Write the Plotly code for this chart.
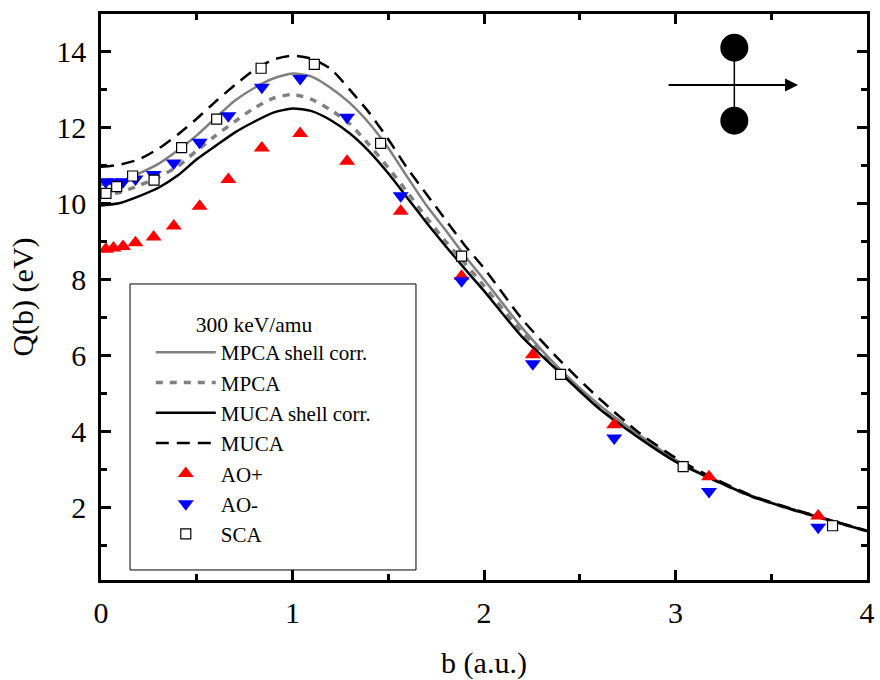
import plotly.graph_objects as go

# ---------------- data ----------------
b_grid = [0, 0.1, 0.2, 0.3, 0.4, 0.5, 0.6, 0.7, 0.8, 0.9, 1.0, 1.1, 1.2, 1.3, 1.4,
          1.5, 1.6, 1.7, 1.8, 1.9, 2.0, 2.2, 2.4, 2.6, 2.8, 3.0, 3.2, 3.4, 3.6, 3.8, 4.0]

mpca_shell = [10.5, 10.58, 10.8, 11.05, 11.4, 11.8, 12.27, 12.72, 13.05, 13.3, 13.43,
              13.35, 13.05, 12.65, 12.12, 11.47, 10.7, 9.95, 9.3, 8.62, 8.0, 6.72, 5.62,
              4.7, 3.94, 3.25, 2.73, 2.29, 1.96, 1.66, 1.37]
mpca = [10.22, 10.3, 10.48, 10.7, 10.98, 11.4, 11.8, 12.17, 12.52, 12.78, 12.88,
        12.75, 12.47, 12.1, 11.55, 10.95, 10.3, 9.63, 9.0, 8.43, 7.83, 6.6, 5.58,
        4.66, 3.9, 3.23, 2.72, 2.28, 1.95, 1.66, 1.37]
muca_shell = [9.95, 10.02, 10.2, 10.42, 10.74, 11.17, 11.53, 11.88, 12.16, 12.4, 12.51,
              12.44, 12.2, 11.85, 11.38, 10.8, 10.15, 9.5, 8.88, 8.28, 7.7, 6.48, 5.53,
              4.6, 3.86, 3.2, 2.72, 2.28, 1.95, 1.66, 1.37]
muca = [10.97, 11.03, 11.17, 11.45, 11.82, 12.24, 12.7, 13.13, 13.52, 13.8, 13.9,
        13.82, 13.55, 13.0, 12.4, 11.7, 10.93, 10.25, 9.57, 8.9, 8.3, 6.95, 5.85,
        4.87, 4.0, 3.3, 2.76, 2.3, 1.97, 1.67, 1.38]

b_ao = [0.025, 0.065, 0.115, 0.18, 0.275, 0.38, 0.515, 0.665, 0.84, 1.04, 1.285,
        1.565, 1.883, 2.255, 2.68, 3.175, 3.745]
ao_plus = [8.8, 8.83, 8.87, 8.97, 9.12, 9.41, 9.93, 10.64, 11.47, 11.85, 11.12,
           9.8, 8.09, 6.02, 4.17, 2.8, 1.77]
ao_minus = [10.58, 10.57, 10.58, 10.65, 10.77, 11.07, 11.62, 12.32, 13.07, 13.3, 12.28,
            10.21, 7.97, 5.78, 3.82, 2.41, 1.47]

b_sca = [0.026, 0.082, 0.165, 0.277, 0.421, 0.604, 0.836, 1.114, 1.46, 1.883, 2.4,
         3.04, 3.82]
sca = [10.27, 10.45, 10.73, 10.62, 11.48, 12.23, 13.57, 13.67, 11.59, 8.62, 5.5,
       3.07, 1.51]

legend_title = "300 keV/amu"
names = ["MPCA shell corr.", "MPCA", "MUCA shell corr.", "MUCA", "AO+", "AO-", "SCA"]
x_ticks = [0, 1, 2, 3, 4]
y_ticks = [2, 4, 6, 8, 10, 12, 14]

# ---------------- figure ----------------
FONT = "Liberation Serif, DejaVu Serif, Times New Roman, serif"
GREY = "#808080"

fig = go.Figure()
fig.add_trace(go.Scatter(x=b_grid, y=mpca_shell, mode="lines", name=names[0],
                         line=dict(color=GREY, width=2.5, shape="spline", smoothing=0.6)))
fig.add_trace(go.Scatter(x=b_grid, y=mpca, mode="lines", name=names[1],
                         line=dict(color=GREY, width=3.5, dash="7px,7px", shape="spline", smoothing=0.6)))
fig.add_trace(go.Scatter(x=b_grid, y=muca_shell, mode="lines", name=names[2],
                         line=dict(color="black", width=2.5, shape="spline", smoothing=0.6)))
fig.add_trace(go.Scatter(x=b_grid, y=muca, mode="lines", name=names[3],
                         line=dict(color="black", width=2.5, dash="13px,8px", shape="spline", smoothing=0.6)))
fig.add_trace(go.Scatter(x=b_ao, y=ao_plus, mode="markers", name=names[4],
                         marker=dict(symbol="triangle-up", size=14, color="#ff0000", line=dict(width=0))))
fig.add_trace(go.Scatter(x=b_ao, y=ao_minus, mode="markers", name=names[5],
                         marker=dict(symbol="triangle-down", size=14, color="#0000ff", line=dict(width=0))))
fig.add_trace(go.Scatter(x=b_sca, y=sca, mode="markers", name=names[6],
                         marker=dict(symbol="square", size=10, color="white",
                                     line=dict(color="black", width=1.2))))

axis_common = dict(
    showline=True, linewidth=2.5, linecolor="black", mirror="allticks",
    ticks="inside", ticklen=10, tickwidth=2.5, tickcolor="black",
    showgrid=False, zeroline=False, automargin=False,
    tickfont=dict(family=FONT, size=30, color="black"),
)

fig.update_layout(
    width=880, height=680,
    margin=dict(l=101, r=13, t=14, b=100, autoexpand=False),
    paper_bgcolor="white", plot_bgcolor="white",
    font=dict(family=FONT, color="black"),
    xaxis=dict(**axis_common, range=[0, 4], tickvals=x_ticks,
               minor=dict(ticks="inside", ticklen=6, tickwidth=2.5, dtick=0.5, tick0=0, tickcolor="black"),
               ticklabelstandoff=4,
               title=dict(text="b (a.u.)", font=dict(family=FONT, size=30), standoff=30)),
    yaxis=dict(**axis_common, range=[0.08, 15], tickvals=y_ticks,
               minor=dict(ticks="inside", ticklen=6, tickwidth=2.5, dtick=1, tick0=1, tickcolor="black"),
               ticklabelstandoff=6,
               title=dict(text="Q(b) (eV)", font=dict(family=FONT, size=30), standoff=14)),
    legend=dict(
        x=0.065, y=0.4875, xanchor="left", yanchor="top",
        bgcolor="rgba(0,0,0,0)", borderwidth=0,
        font=dict(family=FONT, size=21, color="black"),
        title=dict(text="\u00a0" * 8 + legend_title, font=dict(family=FONT, size=21.5)),
        itemwidth=60, tracegroupgap=0,
    ),
    showlegend=True,
)

# legend frame
fig.add_shape(type="rect", xref="paper", yref="paper",
              x0=0.0379, y0=0.0177, x1=0.4112, y1=0.523,
              line=dict(color="black", width=1), fillcolor="rgba(0,0,0,0)", layer="below")

# inset: two-centre target with projectile arrow
cx = 0.8268
for cy in (0.9405, 0.8115):
    fig.add_shape(type="circle", xref="paper", yref="paper",
                  xsizemode="pixel", ysizemode="pixel", xanchor=cx, yanchor=cy,
                  x0=-14, x1=14, y0=-14, y1=14,
                  fillcolor="black", line=dict(color="black", width=0))
fig.add_shape(type="line", xref="paper", yref="paper",
              x0=cx, x1=cx, y0=0.8115, y1=0.9405, line=dict(color="black", width=1.5))
fig.add_annotation(x=0.91, y=0.8746, xref="paper", yref="paper", text="",
                   showarrow=True, ax=-131, ay=0, arrowhead=2, arrowsize=1.3,
                   arrowwidth=2, arrowcolor="black", standoff=0, startstandoff=0)

fig.write_html("out.html")
